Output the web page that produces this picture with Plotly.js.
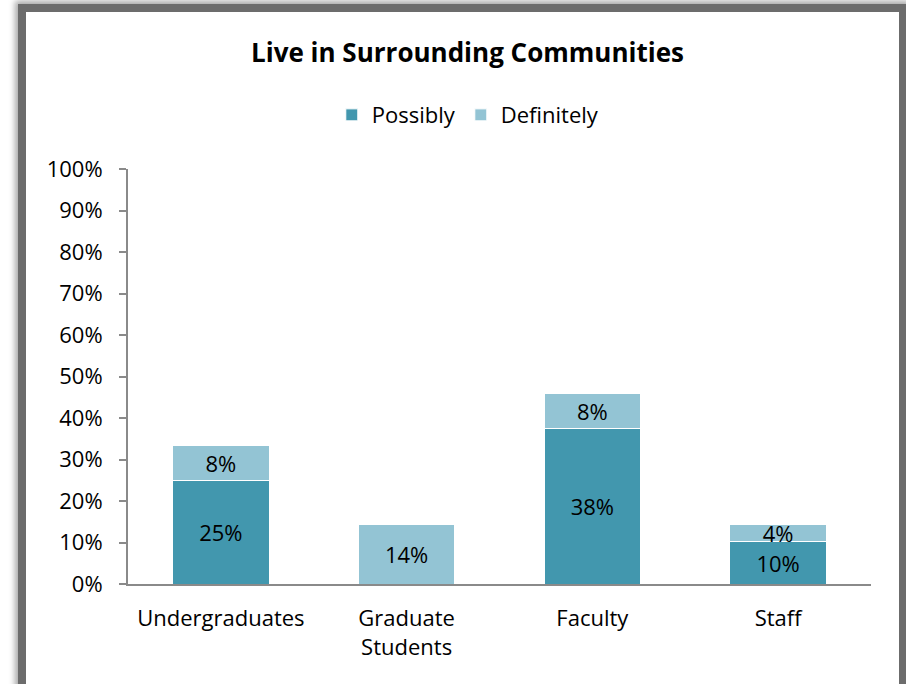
<!DOCTYPE html>
<html>
<head>
<meta charset="utf-8">
<script src="https://cdn.plot.ly/plotly-3.0.1.min.js"></script>
<style>
  html, body { margin:0; padding:0; width:906px; height:684px; overflow:hidden; background:#fff; }
  #frame { position:absolute; left:18px; top:4px; width:873px; height:740px; border:8px solid #6c6c6c; background:#fff;
           box-shadow: 0 0 6px 3px rgba(0,0,0,0.35); }
  #chart { position:absolute; left:0; top:0; width:906px; height:684px; }
</style>
</head>
<body>
<div id="frame"></div>
<div id="chart"></div>
<script>
const categories = ["Undergraduates", "Graduate<br>Students", "Faculty", "Staff"];
const possibly   = [25.0, 0, 37.5, 10.3];
const definitely = [8.4, 14.3, 8.3, 4.0];
const yTicks = [0, 10, 20, 30, 40, 50, 60, 70, 80, 90, 100];

const fmt = v => v > 0 ? Math.round(v) + '%' : '';
const font = "Open Sans, Noto Sans, sans-serif";
const fs = 22;

const common = {
  type: 'bar',
  x: categories,
  textposition: 'inside',
  insidetextanchor: 'middle',
  textangle: 0,
  constraintext: 'none',
  textfont: { family: font, size: fs, color: '#000' },
  hoverinfo: 'skip'
};

const traces = [
  Object.assign({}, common, {
    name: 'Possibly', y: possibly, text: possibly.map(fmt),
    marker: { color: '#4297AE', line: { width: 1, color: '#ffffff' } }
  }),
  Object.assign({}, common, {
    name: 'Definitely', y: definitely, text: definitely.map(fmt),
    marker: { color: '#93C4D4', line: { width: 1, color: '#ffffff' } }
  })
];

const layout = {
  width: 906, height: 684,
  paper_bgcolor: 'rgba(0,0,0,0)',
  plot_bgcolor: 'rgba(0,0,0,0)',
  barmode: 'stack',
  bargap: 0.48,
  margin: { l: 128, r: 35, t: 169, b: 100 },
  font: { family: font, color: '#000', size: fs },
  title: {
    text: '<b>Live in Surrounding Communities</b>',
    font: { family: font, size: 26, color: '#000' },
    x: 0.516, xanchor: 'center', y: 0.922, yanchor: 'middle'
  },
  showlegend: true,
  legend: {
    orientation: 'h', x: 0.458, xanchor: 'center', y: 1.13, yanchor: 'middle',
    font: { family: font, size: fs, color: '#000' },
    traceorder: 'normal', itemwidth: 30
  },
  xaxis: {
    showline: true, linecolor: '#8a8a8a', linewidth: 2,
    ticks: '', tickfont: { family: font, size: fs, color: '#000' },
    ticklabelstandoff: 14,
    fixedrange: true
  },
  yaxis: {
    range: [0, 100], tickvals: yTicks, ticktext: yTicks.map(v => v + '%'),
    showgrid: false, zeroline: false,
    showline: true, linecolor: '#8a8a8a', linewidth: 2,
    ticks: 'outside', ticklen: 7, tickcolor: '#8a8a8a', tickwidth: 2,
    ticklabelstandoff: 12,
    tickfont: { family: font, size: fs, color: '#000' },
    fixedrange: true
  }
};

Plotly.newPlot('chart', traces, layout, { displayModeBar: false, staticPlot: true });
</script>
</body>
</html>
